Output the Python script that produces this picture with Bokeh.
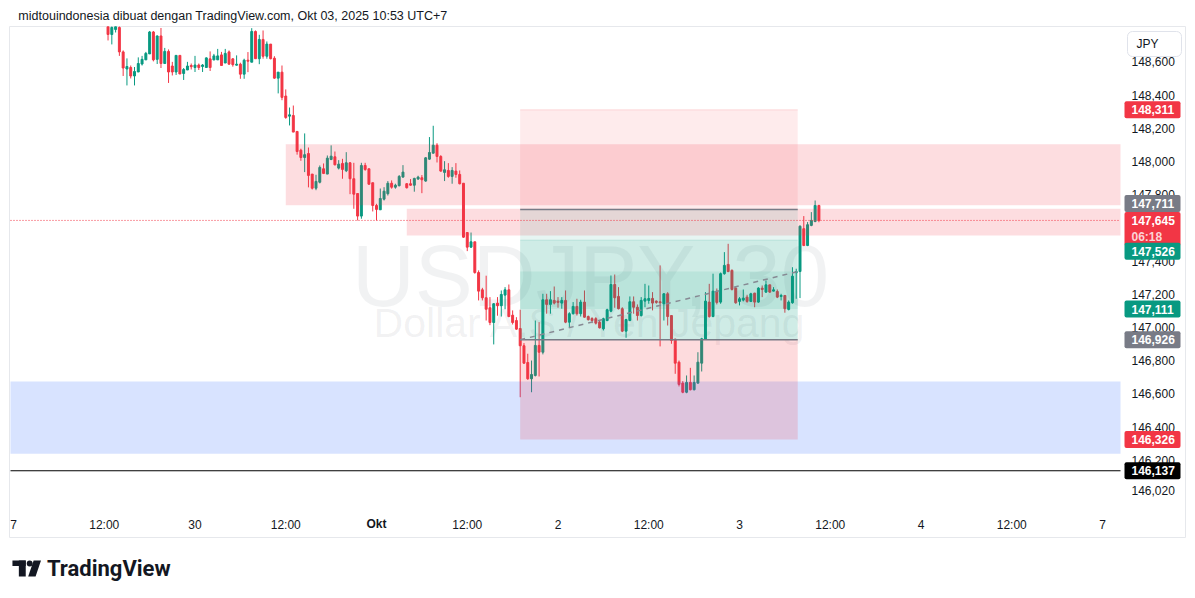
from bokeh.plotting import figure
from bokeh.layouts import column
from bokeh.models import Range1d, FixedTicker, ColumnDataSource
from bokeh.core.properties import value
from bokeh.embed import file_html
from bokeh.resources import INLINE

FONT = "Liberation Sans"

header_text = "midtouindonesia dibuat dengan TradingView.com, Okt 03, 2025 10:53 UTC+7"
symbol_text = "USDJPY, 30"
symbol_desc = "Dollar A.S / Yen Jepang"
countdown_text = "06:18"
currency_text = "JPY"
brand_text = "TradingView"

# time axis (hours counted from the first time tick)
time_tick_hours = [0, 12, 24, 36, 48, 60, 72, 84, 96, 108, 120, 132, 144]
time_tick_labels = ["7", "12:00", "30", "12:00", "Okt", "12:00", "2", "12:00", "3", "12:00", "4", "12:00", "7"]
month_tick_hour = 48
first_bar_hour = 12.5
bar_step_hours = 0.5

price_ticks = [146.02, 146.2, 146.4, 146.6, 146.8, 147.0, 147.2, 147.4, 147.6, 147.8, 148.0, 148.2, 148.4, 148.6]
price_tick_labels = ["146,020", "146,200", "146,400", "146,600", "146,800", "147,000", "147,200",
                     "147,400", "147,600", "147,800", "148,000", "148,200", "148,400", "148,600"]

bar_open = [
    148.825, 148.765, 148.795, 148.807, 148.660, 148.557, 148.566, 148.515, 148.539, 148.587,
    148.612, 148.648, 148.780, 148.615, 148.756, 148.590, 148.663, 148.575, 148.539, 148.639,
    148.530, 148.551, 148.578, 148.566, 148.581, 148.572, 148.566, 148.618, 148.612, 148.612,
    148.642, 148.593, 148.660, 148.618, 148.580, 148.586, 148.526, 148.610, 148.598, 148.783,
    148.619, 148.735, 148.634, 148.707, 148.622, 148.502, 148.538, 148.394, 148.273, 148.277,
    148.181, 148.068, 148.024, 148.048, 147.924, 147.839, 147.875, 147.956, 147.924, 148.012,
    148.028, 147.960, 147.988, 147.944, 147.992, 147.896, 147.807, 147.671, 147.976, 147.956,
    147.872, 147.735, 147.709, 147.773, 147.806, 147.869, 147.845, 147.854, 147.906, 147.866,
    147.866, 147.857, 147.894, 147.902, 147.882, 148.014, 148.050, 148.098, 148.030, 147.934,
    147.946, 147.910, 147.942, 147.922, 147.869, 147.572, 147.484, 147.516, 147.331, 147.227,
    147.179, 147.119, 147.030, 147.147, 147.131, 147.195, 147.227, 147.074, 147.042, 146.994,
    146.890, 146.789, 146.691, 146.711, 146.892, 146.851, 147.167, 147.139, 147.163, 147.159,
    147.147, 147.163, 147.032, 147.083, 147.127, 147.083, 147.153, 147.066, 147.054, 147.053,
    147.032, 146.992, 147.042, 147.098, 147.259, 147.187, 147.113, 146.978, 147.042, 147.155,
    147.122, 147.072, 147.159, 147.163, 147.175, 147.159, 147.155, 147.143, 147.203, 147.072,
    146.930, 146.791, 146.665, 146.610, 146.669, 146.625, 146.665, 146.785, 146.930, 147.153,
    147.066, 147.219, 147.153, 147.324, 147.380, 147.344, 147.237, 147.157, 147.165, 147.183,
    147.157, 147.207, 147.153, 147.237, 147.213, 147.257, 147.219, 147.217, 147.187, 147.193,
    147.109, 147.149, 147.330, 147.337, 147.595, 147.494, 147.615, 147.639, 147.735]

bar_high = [
    148.850, 148.837, 148.837, 148.837, 148.669, 148.621, 148.578, 148.569, 148.627, 148.636,
    148.660, 148.786, 148.786, 148.759, 148.804, 148.684, 148.675, 148.600, 148.639, 148.639,
    148.563, 148.600, 148.590, 148.636, 148.590, 148.587, 148.627, 148.663, 148.648, 148.678,
    148.660, 148.678, 148.669, 148.622, 148.639, 148.595, 148.619, 148.659, 148.803, 148.789,
    148.763, 148.789, 148.723, 148.707, 148.634, 148.538, 148.578, 148.434, 148.325, 148.337,
    148.181, 148.077, 148.169, 148.084, 147.924, 147.920, 147.976, 147.988, 148.036, 148.097,
    148.060, 148.008, 148.016, 148.056, 147.996, 147.992, 147.807, 147.992, 147.992, 147.956,
    147.872, 147.745, 147.837, 147.845, 147.882, 147.886, 147.866, 147.918, 147.978, 147.869,
    147.894, 147.902, 147.914, 147.918, 148.026, 148.147, 148.215, 148.110, 148.038, 148.002,
    147.990, 147.966, 147.990, 147.946, 147.869, 147.572, 147.572, 147.516, 147.344, 147.239,
    147.312, 147.183, 147.147, 147.183, 147.223, 147.243, 147.259, 147.103, 147.062, 147.107,
    146.906, 146.842, 146.801, 147.042, 147.032, 147.203, 147.203, 147.219, 147.247, 147.183,
    147.183, 147.223, 147.092, 147.153, 147.173, 147.167, 147.223, 147.072, 147.062, 147.062,
    147.042, 147.059, 147.113, 147.313, 147.319, 147.243, 147.122, 147.053, 147.187, 147.187,
    147.139, 147.183, 147.263, 147.253, 147.213, 147.163, 147.374, 147.207, 147.213, 147.072,
    146.932, 146.801, 146.677, 146.711, 146.757, 146.711, 146.851, 146.938, 147.213, 147.263,
    147.324, 147.235, 147.331, 147.454, 147.504, 147.350, 147.243, 147.183, 147.229, 147.197,
    147.209, 147.209, 147.243, 147.253, 147.283, 147.257, 147.243, 147.229, 147.203, 147.193,
    147.163, 147.363, 147.354, 147.615, 147.671, 147.635, 147.695, 147.765, 147.739]

bar_low = [
    148.729, 148.705, 148.777, 148.636, 148.515, 148.458, 148.500, 148.458, 148.539, 148.578,
    148.612, 148.648, 148.603, 148.587, 148.563, 148.590, 148.473, 148.518, 148.521, 148.527,
    148.491, 148.551, 148.554, 148.539, 148.551, 148.539, 148.566, 148.545, 148.609, 148.612,
    148.578, 148.593, 148.584, 148.571, 148.578, 148.498, 148.498, 148.538, 148.598, 148.619,
    148.586, 148.619, 148.619, 148.615, 148.498, 148.410, 148.369, 148.257, 148.217, 148.177,
    148.041, 148.004, 147.936, 147.844, 147.831, 147.827, 147.868, 147.924, 147.924, 148.008,
    147.976, 147.952, 147.896, 147.936, 147.803, 147.715, 147.645, 147.655, 147.944, 147.860,
    147.699, 147.645, 147.709, 147.765, 147.795, 147.836, 147.836, 147.850, 147.902, 147.837,
    147.854, 147.818, 147.890, 147.809, 147.878, 148.010, 148.047, 147.994, 147.938, 147.882,
    147.902, 147.866, 147.902, 147.862, 147.540, 147.460, 147.480, 147.324, 147.163, 147.163,
    147.042, 147.014, 146.898, 147.071, 147.066, 147.110, 147.062, 147.018, 146.986, 146.580,
    146.781, 146.685, 146.610, 146.705, 146.705, 146.838, 147.083, 147.083, 147.139, 147.119,
    147.113, 147.026, 147.002, 147.078, 147.072, 147.066, 147.059, 147.042, 147.026, 147.018,
    146.994, 146.982, 147.038, 147.092, 147.119, 147.109, 146.972, 146.938, 147.038, 147.083,
    147.042, 147.066, 147.122, 147.143, 147.103, 147.143, 146.886, 147.042, 147.012, 146.902,
    146.721, 146.645, 146.604, 146.604, 146.621, 146.621, 146.661, 146.735, 146.926, 147.059,
    147.062, 147.139, 147.143, 147.318, 147.333, 147.223, 147.143, 147.133, 147.157, 147.149,
    147.153, 147.122, 147.149, 147.183, 147.209, 147.209, 147.217, 147.177, 147.163, 147.089,
    147.103, 147.143, 147.173, 147.177, 147.490, 147.490, 147.610, 147.634, 147.634]

bar_close = [
    148.765, 148.807, 148.813, 148.660, 148.563, 148.572, 148.515, 148.542, 148.590, 148.615,
    148.651, 148.780, 148.612, 148.756, 148.590, 148.663, 148.539, 148.539, 148.639, 148.527,
    148.554, 148.575, 148.571, 148.581, 148.566, 148.581, 148.624, 148.566, 148.636, 148.636,
    148.578, 148.651, 148.586, 148.583, 148.586, 148.526, 148.610, 148.604, 148.783, 148.619,
    148.735, 148.634, 148.707, 148.619, 148.502, 148.538, 148.386, 148.265, 148.281, 148.177,
    148.060, 148.024, 148.041, 147.916, 147.839, 147.880, 147.964, 147.928, 148.020, 148.032,
    147.980, 147.984, 147.952, 147.992, 147.896, 147.803, 147.671, 147.976, 147.952, 147.863,
    147.735, 147.711, 147.777, 147.821, 147.869, 147.845, 147.857, 147.910, 147.936, 147.842,
    147.857, 147.898, 147.906, 147.890, 148.022, 148.054, 148.098, 148.030, 147.942, 147.950,
    147.910, 147.946, 147.922, 147.866, 147.544, 147.484, 147.516, 147.331, 147.219, 147.179,
    147.110, 147.030, 147.143, 147.131, 147.199, 147.227, 147.066, 147.030, 146.990, 146.890,
    146.785, 146.691, 146.717, 146.892, 146.851, 147.167, 147.139, 147.167, 147.147, 147.151,
    147.163, 147.032, 147.083, 147.127, 147.083, 147.153, 147.062, 147.047, 147.042, 147.026,
    146.998, 147.053, 147.107, 147.259, 147.179, 147.113, 146.978, 147.048, 147.155, 147.122,
    147.072, 147.163, 147.173, 147.175, 147.147, 147.151, 147.149, 147.203, 147.066, 146.922,
    146.785, 146.657, 146.610, 146.669, 146.625, 146.669, 146.791, 146.932, 147.159, 147.066,
    147.219, 147.151, 147.324, 147.374, 147.337, 147.229, 147.149, 147.173, 147.177, 147.157,
    147.203, 147.153, 147.237, 147.229, 147.257, 147.213, 147.227, 147.183, 147.193, 147.113,
    147.153, 147.309, 147.337, 147.610, 147.494, 147.619, 147.645, 147.735, 147.645]

# supply (red) zones, extended to the right edge of the chart
supply_zone_start = [36.0, 52.0]
supply_zone_top = [148.103, 147.715]
supply_zone_bottom = [147.737, 147.554]
# demand (blue) zone across the whole chart
demand_zone_top = 146.675
demand_zone_bottom = 146.239
# horizontal line
horizontal_level = 146.137

# position tools
position_start_hour = 67.0
position_end_hour = 103.7
short_entry, short_stop, short_target = 147.711, 148.311, 147.111
long_entry, long_stop, long_target = 146.926, 146.326, 147.526

# price scale tags
tag_prices = [148.311, 147.711, 147.645, 147.526, 147.111, 146.926, 146.326, 146.137]
tag_labels = ["148,311", "147,711", "147,645", "147,526", "147,111", "146,926", "146,326", "146,137"]
tag_colors = ["#F23645", "#787B86", "#F23645", "#089981", "#089981", "#787B86", "#F23645", "#000000"]
tag_shift_px = [0, 6, 0, -11, 0, 0, 0, 0]

UP, DOWN = "#089981", "#F23645"
TXT = "#131722"


def rounded(renderer, radius):
    g = renderer.glyph
    if "border_radius" in g.properties():
        g.border_radius = radius


n = len(bar_close)
bar_hour = [first_bar_hour + bar_step_hours * i for i in range(n)]
colors = [UP if c >= o else DOWN for o, c in zip(bar_open, bar_close)]
src = ColumnDataSource(dict(
    t=bar_hour, o=bar_open, h=bar_high, l=bar_low, c=bar_close,
    top=[max(o, c) for o, c in zip(bar_open, bar_close)],
    bot=[min(o, c) for o, c in zip(bar_open, bar_close)],
    color=colors))

W = 1195
# ---------------- header ----------------
hdr = figure(width=W, height=26, x_range=Range1d(0, W), y_range=Range1d(26, 0),
             output_backend="svg", toolbar_location=None, x_axis_location=None, y_axis_location=None,
             min_border=0, outline_line_color=None, background_fill_color="white", border_fill_color="white")
hdr.grid.grid_line_color = None
hdr.text(x=[9], y=[15], text=[header_text], text_font=value(FONT), text_font_size="12.5px",
         text_color=TXT, text_baseline="middle", text_align="left")

# ---------------- main chart ----------------
FW, FH = 1176, 512
X0, X1 = -0.529, 154.975
Y0, Y1 = 145.729, 148.813
UX = (X1 - X0) / FW
UY = (Y1 - Y0) / FH
X_CHART_L = X0 + 1 * UX
X_CHART_R = 146.38

p = figure(width=W, height=FH, x_range=Range1d(X0, X1), y_range=Range1d(Y0, Y1),
           output_backend="svg", toolbar_location=None, y_axis_location="right",
           min_border_left=9, min_border_right=10, min_border_top=0, min_border_bottom=0,
           background_fill_color="white", border_fill_color="white",
           outline_line_color="#e6e8ec", outline_line_width=1)
p.grid.grid_line_color = None

ya = p.yaxis[0]
ya.ticker = FixedTicker(ticks=price_ticks)
ya.major_label_overrides = dict(zip(price_ticks, price_tick_labels))
ya.axis_line_color = None
ya.major_tick_line_color = None
ya.minor_tick_line_color = None
ya.major_tick_out = 0
ya.major_tick_in = 0
ya.major_label_standoff = -54
ya.major_label_text_font = FONT
ya.major_label_text_font_size = "12px"
ya.major_label_text_color = TXT

xa = p.xaxis[0]
xa.ticker = FixedTicker(ticks=time_tick_hours)
overrides = dict(zip(time_tick_hours, time_tick_labels))
month_label = overrides[month_tick_hour]
overrides[month_tick_hour] = ""          # month name is drawn in bold below
xa.major_label_overrides = overrides
xa.axis_line_color = None
xa.major_tick_line_color = None
xa.minor_tick_line_color = None
xa.major_tick_out = 0
xa.major_tick_in = 0
xa.major_label_standoff = -21
xa.major_label_text_font = FONT
xa.major_label_text_font_size = "12px"
xa.major_label_text_color = TXT

# watermark
mid_hour = 76.3
p.text(x=[mid_hour], y=[147.313], text=[symbol_text], text_font=value(FONT), text_font_size="87px",
       text_align="center", text_baseline="alphabetic", text_color="#787b86", text_alpha=0.1)
p.text(x=[mid_hour], y=[147.030], text=[symbol_desc], text_font=value(FONT), text_font_size="41px",
       text_align="center", text_baseline="alphabetic", text_color="#787b86", text_alpha=0.1)

# candles
p.segment(x0="t", y0="l", x1="t", y1="h", line_color="color", line_width=1, source=src)
p.vbar(x="t", width=0.26, top="top", bottom="bot", fill_color="color", line_color="color",
       line_width=1, source=src)

# zones
p.quad(left=supply_zone_start, right=[X_CHART_R] * len(supply_zone_start), top=supply_zone_top,
       bottom=supply_zone_bottom, fill_color=DOWN, fill_alpha=0.17, line_color=None)
p.quad(left=[X_CHART_L], right=[X_CHART_R], top=[demand_zone_top], bottom=[demand_zone_bottom],
       fill_color="#2962FF", fill_alpha=0.18, line_color=None)

# position tools
in_range = [c for t, c in zip(bar_hour, bar_close) if t <= position_end_hour]
range_close = in_range[-1]
ps, pe = position_start_hour, position_end_hour
p.quad(left=[ps], right=[pe], bottom=[short_entry], top=[short_stop], fill_color=DOWN, fill_alpha=0.1, line_color=None)
p.quad(left=[ps], right=[pe], bottom=[short_target], top=[short_entry], fill_color=UP, fill_alpha=0.1, line_color=None)
p.quad(left=[ps], right=[pe], bottom=[long_entry], top=[long_target], fill_color=UP, fill_alpha=0.1, line_color=None)
p.quad(left=[ps], right=[pe], bottom=[long_stop], top=[long_entry], fill_color=DOWN, fill_alpha=0.18, line_color=None)
p.quad(left=[ps], right=[pe], bottom=[long_entry], top=[range_close], fill_color=UP, fill_alpha=0.1, line_color=None)
p.segment(x0=[ps, ps], y0=[short_entry, long_entry], x1=[pe, pe], y1=[short_entry, long_entry],
          line_color="#787B86", line_width=1.5)
p.segment(x0=[ps, ps], y0=[short_stop, long_target], x1=[pe, pe], y1=[short_stop, long_target],
          line_color=["#F23645", "#089981"], line_alpha=0.15, line_width=1)
p.line(x=[ps, pe], y=[long_entry, range_close], line_color="#868993", line_width=1.5, line_dash="5 5")

# horizontal line and current price line
p.segment(x0=[X_CHART_L], y0=[horizontal_level], x1=[X_CHART_R], y1=[horizontal_level],
          line_color="#000000", line_width=1)
p.segment(x0=[X_CHART_L], y0=[bar_close[-1]], x1=[X_CHART_R], y1=[bar_close[-1]],
          line_color=DOWN, line_width=1, line_dash="1 2")

# bold month label on the time scale
r = p.text(x=[month_tick_hour], y=[Y0 + 14.5 * UY], text=[month_label], text_font=value(FONT),
           text_font_size="12px", text_font_style="bold", text_color=TXT,
           text_baseline="middle", text_align="center")
r.level = "overlay"

# price scale tags (drawn above the axis labels)
tag_left = X_CHART_R + 4 * UX
tag_right = tag_left + 56 * UX
tag_text_x = tag_left + 7 * UX
tag_center = [pr + sh * UY for pr, sh in zip(tag_prices, tag_shift_px)]
tag_top = [c + 8.5 * UY for c in tag_center]
tag_bot = [c - 8.5 * UY for c in tag_center]
cur_idx = tag_prices.index(bar_close[-1])
tag_bot[cur_idx] = tag_center[cur_idx] - 25.5 * UY
r = p.quad(left=[tag_left] * len(tag_prices), right=[tag_right] * len(tag_prices), top=tag_top, bottom=tag_bot,
           fill_color=tag_colors, line_color=None)
r.level = "overlay"
rounded(r, 2)
r = p.text(x=[tag_text_x] * len(tag_prices), y=tag_center, text=tag_labels,
           text_font=value(FONT), text_font_size="12px", text_font_style="bold", text_color="white",
           text_baseline="middle", text_align="left")
r.level = "overlay"
r = p.text(x=[tag_text_x], y=[tag_center[cur_idx] - 17 * UY], text=[countdown_text],
           text_font=value(FONT), text_font_size="12px", text_font_style="bold", text_color="#fcd3d6",
           text_baseline="middle", text_align="left")
r.level = "overlay"

# currency button
r = p.quad(left=[X_CHART_R + 7 * UX], right=[X_CHART_R + 61 * UX], top=[Y1 - 5 * UY], bottom=[Y1 - 30 * UY],
           fill_color="white", line_color="#e0e3eb", line_width=1)
r.level = "overlay"
rounded(r, 5)
r = p.text(x=[X_CHART_R + 16 * UX], y=[Y1 - 17.5 * UY], text=[currency_text], text_font=value(FONT),
           text_font_size="12px", text_color=TXT, text_baseline="middle", text_align="left")
r.level = "overlay"

# ---------------- footer ----------------
ftr = figure(width=W, height=60, x_range=Range1d(0, W), y_range=Range1d(60, 0),
             output_backend="svg", toolbar_location=None, x_axis_location=None, y_axis_location=None,
             min_border=0, outline_line_color=None, background_fill_color="white", border_fill_color="white")
ftr.grid.grid_line_color = None
ftr.quad(left=[3, 9.5], right=[16.5, 16.5], top=[22, 22], bottom=[27.5, 38], fill_color=TXT, line_color=None)
ftr.circle(x=[20.5], y=[25], radius=3, fill_color=TXT, line_color=None)
ftr.patch(x=[24.5, 32, 26.5, 19], y=[22, 22, 38, 38], fill_color=TXT, line_color=None)
ftr.text(x=[38], y=[30], text=[brand_text], text_font=value("Roboto"), text_font_size="22px",
         text_font_style="bold", text_color=TXT, text_baseline="middle", text_align="left")

layout = column(hdr, p, ftr, spacing=0)
open("out.html", "w").write(file_html(layout, INLINE))
